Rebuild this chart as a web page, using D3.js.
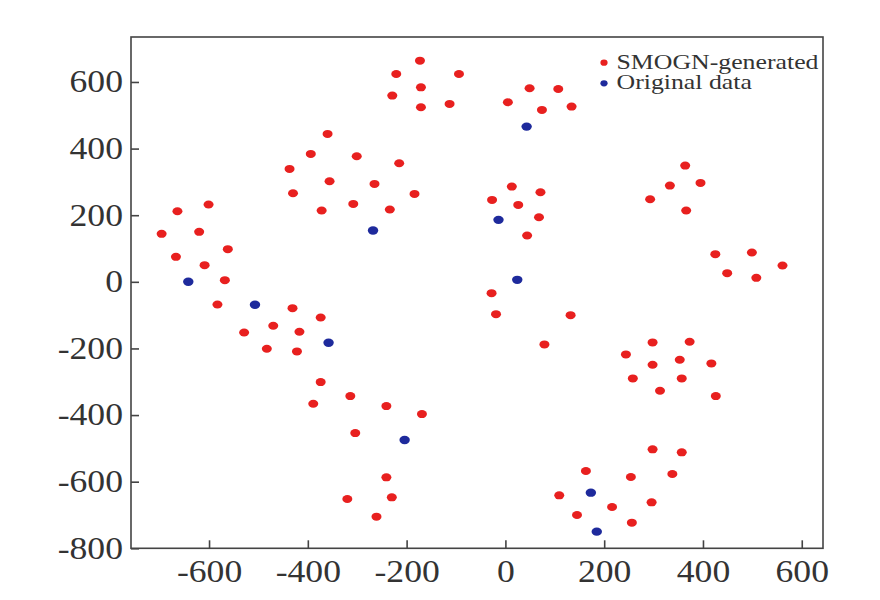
<!DOCTYPE html>
<html>
<head>
<meta charset="utf-8">
<script src="https://cdn.jsdelivr.net/npm/d3@7"></script>
<style>
  body { margin: 0; background: #fff; }
  text { font-family: "Liberation Serif", "Times New Roman", serif; fill: #333; }
</style>
</head>
<body>
<div id="chart"></div>
<script>
// points, [x, y]
var generated = [
  [-173, 664], [-221, 624], [-94, 624], [-171, 584], [-229, 559], [-171, 524], [-113, 534],
  [-360, 444], [-394, 384], [-301, 377], [-215, 356], [-437, 339], [-356, 302], [-265, 294],
  [-430, 266], [-184, 264], [-372, 214], [-308, 234], [-234, 217],
  [-664, 212], [-601, 232], [-696, 144], [-620, 150], [-562, 98], [-667, 75], [-609, 50], [-568, 5],
  [-583, -68], [-431, -79], [-374, -107], [-470, -132], [-529, -152], [-417, -150], [-483, -201],
  [-422, -209], [-374, -301], [-314, -343], [-389, -366], [-241, -373], [-169, -397], [-304, -454],
  [-241, -587], [-230, -647], [-320, -652], [-261, -705],
  [49, 581], [107, 579], [5, 539], [74, 516], [134, 526],
  [13, 286], [71, 269], [-27, 246], [26, 231], [68, 194], [44, 139],
  [-28, -34], [-19, -97], [132, -100], [79, -188],
  [364, 349], [333, 289], [395, 297], [293, 248], [366, 214],
  [425, 83], [499, 88], [561, 49], [449, 26], [508, 12],
  [298, -182], [373, -180], [244, -218], [298, -249], [353, -234], [417, -245],
  [258, -290], [357, -290], [313, -327], [426, -343],
  [298, -503], [357, -512], [163, -568], [254, -586], [338, -577], [109, -641],
  [216, -676], [296, -662], [145, -700], [256, -723]
];
var original = [
  [-268, 154], [-642, 0], [-507, -69], [-358, -183], [-204, -475],
  [43, 466], [-14, 186], [24, 6], [173, -633], [185, -750]
];
var xTicks = [-600, -400, -200, 0, 200, 400, 600];
var yTicks = [-800, -600, -400, -200, 0, 200, 400, 600];
var legendLabels = ["SMOGN-generated", "Original data"];
var colors = ["#e8201f", "#1e2a9c"];

var W = 880, H = 600;
var plotL = 131, plotR = 823, plotT = 37, plotB = 548.3;

var x = d3.scaleLinear().domain([-758, 643]).range([plotL, plotR]);
var y = d3.scaleLinear().domain([-800, 735]).range([plotB, plotT]);

var svg = d3.select("#chart").append("svg")
  .attr("width", W)
  .attr("height", H);

svg.append("rect").attr("width", W).attr("height", H).attr("fill", "#fff");

function plain(d) { return String(d); }  // hyphen minus like the original

// x axis, ticks pointing inward
var gx = svg.append("g")
  .attr("transform", "translate(0," + plotB + ")")
  .call(d3.axisBottom(x).tickValues(xTicks).tickFormat(plain)
    .tickSizeInner(-8).tickSizeOuter(0).tickPadding(12));

var gy = svg.append("g")
  .attr("transform", "translate(" + plotL + ",0)")
  .call(d3.axisLeft(y).tickValues(yTicks).tickFormat(plain)
    .tickSizeInner(-8).tickSizeOuter(0).tickPadding(7));

[gx, gy].forEach(function(g) {
  g.select(".domain").remove();
  g.selectAll(".tick line").attr("stroke", "#444").attr("stroke-width", 1.6);
  g.selectAll(".tick text")
    .attr("font-size", 31)
    .attr("font-family", "Liberation Serif")
    .attr("fill", "#333")
    .attr("transform", "scale(1.15,1)");
});

// frame
svg.append("rect")
  .attr("x", plotL).attr("y", plotT)
  .attr("width", plotR - plotL).attr("height", plotB - plotT)
  .attr("fill", "none")
  .attr("stroke", "#444")
  .attr("stroke-width", 1.6);

svg.append("g").selectAll("ellipse")
  .data(generated)
  .enter()
  .append("ellipse")
  .attr("cx", function(d) { return x(d[0]); })
  .attr("cy", function(d) { return y(d[1]); })
  .attr("rx", 5)
  .attr("ry", 4)
  .attr("fill", colors[0]);

svg.append("g").selectAll("ellipse")
  .data(original)
  .enter()
  .append("ellipse")
  .attr("cx", function(d) { return x(d[0]); })
  .attr("cy", function(d) { return y(d[1]); })
  .attr("rx", 5.2)
  .attr("ry", 4.2)
  .attr("fill", colors[1]);

// legend
var legend = svg.append("g");
legendLabels.forEach(function(label, i) {
  var ly = 62.7 + i * 20.6;
  legend.append("ellipse")
    .attr("cx", 604).attr("cy", ly)
    .attr("rx", 3.6).attr("ry", 3.1)
    .attr("fill", colors[i]);
  legend.append("text")
    .attr("transform", "translate(616.5," + (ly + 5.8) + ") scale(1.29,1)")
    .attr("font-size", 20)
    .text(label);
});
</script>
</body>
</html>
